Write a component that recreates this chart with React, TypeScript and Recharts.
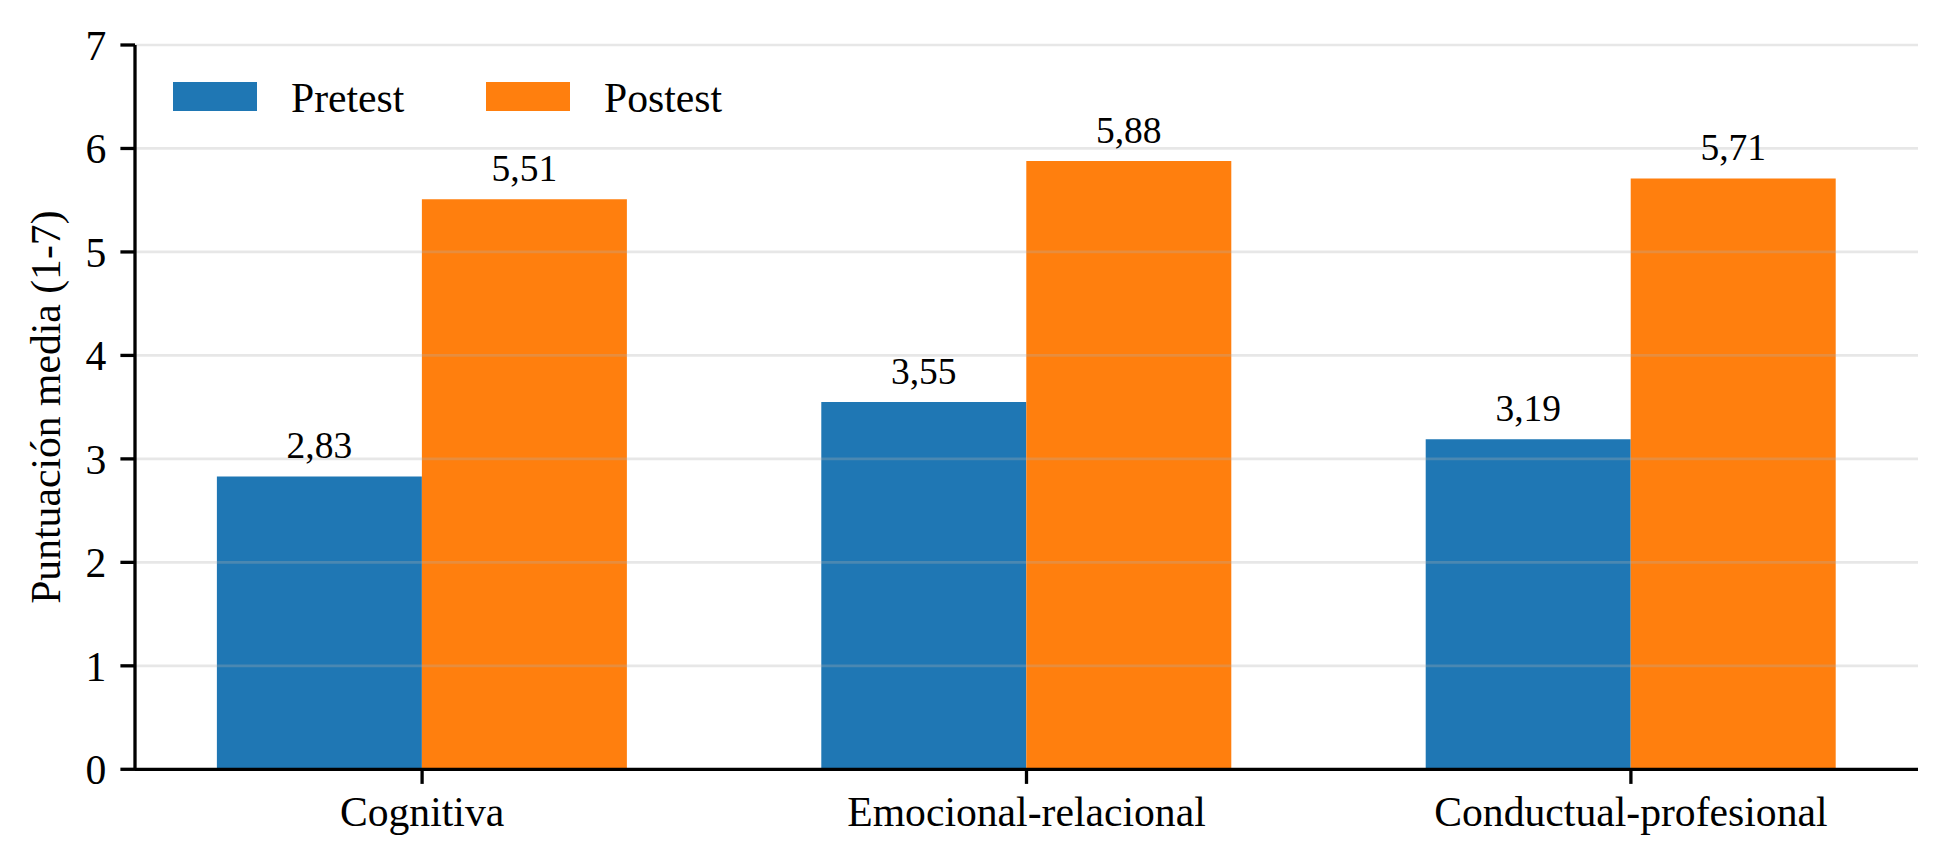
import React from 'react';
import { BarChart, Bar, XAxis, YAxis, CartesianGrid, Legend, LabelList } from 'recharts';

const categories = ['Cognitiva', 'Emocional-relacional', 'Conductual-profesional'];
const pretest = [2.83, 3.55, 3.19];
const postest = [5.51, 5.88, 5.71];
const seriesNames = ['Pretest', 'Postest'];
const yTicks = [0, 1, 2, 3, 4, 5, 6, 7];
const xTicks = [0, 1, 2];
const yLabel = 'Puntuación media (1-7)';

const data = categories.map((name, i) => ({
  x: i,
  name,
  pretest: pretest[i],
  postest: postest[i],
}));

const FONT = '"Liberation Serif", "Times New Roman", serif';
const BLUE = '#1f77b4';
const ORANGE = '#ff7f0e';
const FS = 41.67;

// decimal comma, two places
const fmt = (v: any) => Number(v).toFixed(2).replace('.', ',');

const renderLegend = ({ payload }: any) => {
  const items = [...(payload || [])].sort(
    (a: any, b: any) => seriesNames.indexOf(a.value) - seriesNames.indexOf(b.value)
  );
  return (
    <svg width={900} height={140} style={{ display: 'block' }}>
      {items.map((p: any, i: number) => (
        <g key={p.value} transform={`translate(${i * 313}, 0)`}>
          <rect x={173} y={82} width={84} height={29} fill={p.color} />
          <text x={291} y={112} fontSize={FS} fontFamily={FONT} fill="#000">
            {p.value}
          </text>
        </g>
      ))}
    </svg>
  );
};

const axisStroke = { stroke: '#000', strokeWidth: 3.3 };
const textStyle = { fontFamily: FONT };

export default function App() {
  return (
    <div
      style={{
        position: 'absolute',
        left: 0,
        top: 0,
        width: 1948,
        height: 867,
        background: '#fff',
        fontFamily: FONT,
      }}
    >
      <BarChart
        width={1948}
        height={867}
        data={data}
        margin={{ top: 45, right: 30, bottom: 0, left: 0 }}
        barGap={0}
        style={{ fontFamily: FONT }}
      >
        <Bar dataKey="pretest" name={seriesNames[0]} fill={BLUE} barSize={205} isAnimationActive={false}>
          <LabelList
            dataKey="pretest"
            position="top"
            offset={18}
            formatter={fmt}
            fontSize={37.5}
            fontFamily={FONT}
            style={textStyle}
            fill="#000"
          />
        </Bar>
        <Bar dataKey="postest" name={seriesNames[1]} fill={ORANGE} barSize={205} isAnimationActive={false}>
          <LabelList
            dataKey="postest"
            position="top"
            offset={18}
            formatter={fmt}
            fontSize={37.5}
            fontFamily={FONT}
            style={textStyle}
            fill="#000"
          />
        </Bar>
        <CartesianGrid
          vertical={false}
          stroke="#b0b0b0"
          strokeOpacity={0.3}
          strokeWidth={2.7}
          zIndex={400}
        />
        <XAxis
          dataKey="x"
          type="number"
          domain={[-0.475, 2.475]}
          ticks={xTicks}
          interval={0}
          tickFormatter={(v: number) => categories[v]}
          height={97.7}
          tickSize={14.6}
          tickMargin={13}
          axisLine={axisStroke}
          tickLine={axisStroke}
          tick={{ fontSize: FS, fill: '#000', fontFamily: FONT }}
        />
        <YAxis
          type="number"
          domain={[0, 7]}
          ticks={yTicks}
          interval={0}
          width={135}
          tickSize={14.6}
          tickMargin={14}
          axisLine={axisStroke}
          tickLine={axisStroke}
          tick={{ fontSize: FS, fill: '#000', fontFamily: FONT }}
          label={{
            value: yLabel,
            angle: -90,
            position: 'center',
            dx: -22,
            fontSize: FS,
            fill: '#000',
            fontFamily: FONT,
            style: textStyle,
          }}
        />
        <Legend
          layout="horizontal"
          verticalAlign="middle"
          content={renderLegend}
          wrapperStyle={{ position: 'absolute', left: 0, top: 0, width: 900, height: 140 }}
        />
      </BarChart>
    </div>
  );
}
